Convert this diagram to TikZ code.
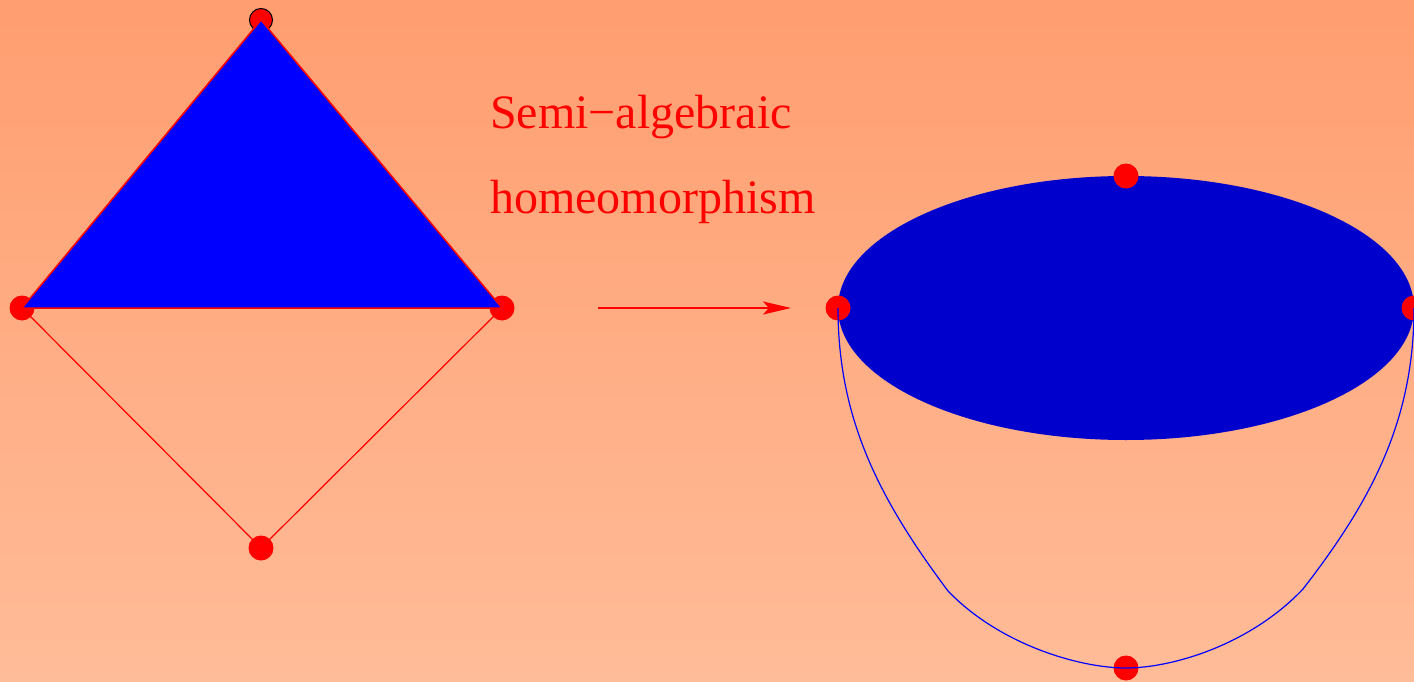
\documentclass[tikz,border=0pt]{standalone}
\usepackage{fontspec}
\setmainfont{Liberation Serif}
\usetikzlibrary{arrows.meta}
\definecolor{bgtop}{RGB}{255,158,112}
\definecolor{bgbot}{RGB}{255,188,152}
\definecolor{ellblue}{RGB}{0,0,205}
\tikzset{
  dot/.style={circle, fill=red, minimum size=25pt, inner sep=0pt},
  topdot/.style={dot, draw=black, line width=1pt, minimum size=23pt},
  edge/.style={red, line width=1.2pt},
  curveline/.style={blue, line width=1.2pt},
  label/.style={text=red, font=\fontsize{48}{57}\selectfont, anchor=base west, inner sep=0pt},
}
\begin{document}
\begin{tikzpicture}[x=1pt,y=-1pt]
\useasboundingbox (0,0) rectangle (1414,682);
\shade[top color=bgtop, bottom color=bgbot] (0,0) rectangle (1414,682);
% left figure
\node[topdot] (T) at (261,20) {};
\node[dot] (L) at (22,308) {};
\node[dot] (R) at (502,308) {};
\node[dot] (B) at (261,548) {};
\draw[edge] (L.center) -- (B.center) -- (R.center);
\filldraw[fill=blue, draw=red, line width=1.5pt] (T.center) -- (L.center) -- (R.center) -- cycle;
% text and arrow
\node[label] (t1) at (490,129) {Semi−algebraic};
\node[label] (t2) at (490,213) {homeomorphism};
\coordinate (a1) at (598,308);
\coordinate (a2) at (791,308);
\draw[red, line width=2pt, -{Stealth[length=28pt, width=13pt, inset=6pt]}] (a1) -- (a2);
% right figure
\fill[ellblue] (1126,308) ellipse [x radius=288, y radius=132];
\node[dot] (ET) at (1126,176) {};
\node[dot] (EL) at (838,308) {};
\node[dot] (ER) at (1414,308) {};
\node[dot] (EB) at (1126,668) {};
\coordinate (k1) at (948,591);
\coordinate (k2) at (1303,589);
\draw[curveline] (EL.center) .. controls (838,420) and (880,500) .. (k1)
  .. controls (1000,645) and (1080,668) .. (EB.center)
  .. controls (1172,668) and (1250,645) .. (k2)
  .. controls (1372,500) and (1414,420) .. (ER.center);
\end{tikzpicture}
\end{document}
